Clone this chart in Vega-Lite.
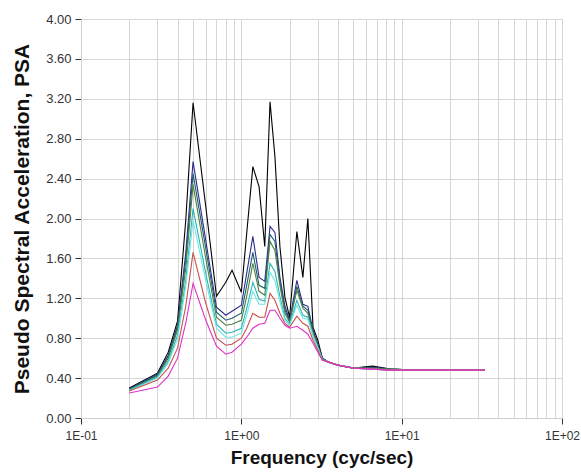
{
  "$schema": "https://vega.github.io/schema/vega-lite/v6.json",
  "width": 481,
  "height": 399,
  "autosize": {"type": "none"},
  "padding": {"left": 81, "top": 19, "right": 19, "bottom": 57},
  "background": "white",
  "config": {
    "view": {"stroke": null},
    "font": "Liberation Sans",
    "axis": {
      "gridColor": "#d6d6d6",
      "gridWidth": 1,
      "domainColor": "#cfcfcf",
      "tickColor": "#333333",
      "tickSize": 6,
      "labelFontSize": 12,
      "labelColor": "#333333",
      "titleFontWeight": "bold",
      "titleColor": "#111111"
    }
  },
  "data": {
    "values": [
      {"f": 0.2, "K": 0.30, "N": 0.29, "T": 0.29, "G": 0.28, "C": 0.28, "L": 0.27, "R": 0.27, "M": 0.25},
      {"f": 0.3, "K": 0.45, "N": 0.44, "T": 0.43, "G": 0.42, "C": 0.41, "L": 0.40, "R": 0.38, "M": 0.31},
      {"f": 0.35, "K": 0.66, "N": 0.63, "T": 0.62, "G": 0.60, "C": 0.57, "L": 0.55, "R": 0.50, "M": 0.42},
      {"f": 0.4, "K": 0.97, "N": 0.93, "T": 0.91, "G": 0.88, "C": 0.83, "L": 0.79, "R": 0.70, "M": 0.60},
      {"f": 0.45, "K": 1.98, "N": 1.65, "T": 1.58, "G": 1.50, "C": 1.38, "L": 1.32, "R": 1.12, "M": 0.95},
      {"f": 0.5, "K": 3.16, "N": 2.57, "T": 2.45, "G": 2.34, "C": 2.10, "L": 1.98, "R": 1.66, "M": 1.35},
      {"f": 0.6, "K": 2.12, "N": 1.78, "T": 1.70, "G": 1.60, "C": 1.45, "L": 1.38, "R": 1.15, "M": 0.98},
      {"f": 0.7, "K": 1.22, "N": 1.11, "T": 1.06, "G": 1.01, "C": 0.94, "L": 0.90, "R": 0.80, "M": 0.72},
      {"f": 0.8, "K": 1.36, "N": 1.03, "T": 0.98, "G": 0.93, "C": 0.85, "L": 0.81, "R": 0.73, "M": 0.64},
      {"f": 0.875, "K": 1.48, "N": 1.07, "T": 1.00, "G": 0.94, "C": 0.86, "L": 0.81, "R": 0.74, "M": 0.66},
      {"f": 1.0, "K": 1.26, "N": 1.13, "T": 1.05, "G": 0.98, "C": 0.90, "L": 0.85, "R": 0.80, "M": 0.74},
      {"f": 1.08, "K": 1.85, "N": 1.45, "T": 1.33, "G": 1.22, "C": 1.10, "L": 1.03, "R": 0.90, "M": 0.81},
      {"f": 1.18, "K": 2.52, "N": 1.82, "T": 1.66, "G": 1.55, "C": 1.36, "L": 1.27, "R": 1.05, "M": 0.90},
      {"f": 1.29, "K": 2.32, "N": 1.41, "T": 1.33, "G": 1.27, "C": 1.19, "L": 1.14, "R": 1.01, "M": 0.94},
      {"f": 1.4, "K": 1.72, "N": 1.37, "T": 1.30, "G": 1.23, "C": 1.17, "L": 1.14, "R": 1.01, "M": 0.95},
      {"f": 1.51, "K": 3.17, "N": 1.92, "T": 1.84, "G": 1.77, "C": 1.55, "L": 1.46, "R": 1.25, "M": 1.08},
      {"f": 1.62, "K": 2.62, "N": 1.86, "T": 1.77, "G": 1.68, "C": 1.47, "L": 1.38, "R": 1.18, "M": 1.08},
      {"f": 1.74, "K": 1.72, "N": 1.41, "T": 1.37, "G": 1.33, "C": 1.22, "L": 1.17, "R": 1.05, "M": 1.00},
      {"f": 1.87, "K": 1.21, "N": 1.12, "T": 1.08, "G": 1.05, "C": 1.00, "L": 0.98, "R": 0.95, "M": 0.93},
      {"f": 2.0, "K": 1.01, "N": 0.98, "T": 0.97, "G": 0.96, "C": 0.94, "L": 0.93, "R": 0.91, "M": 0.90},
      {"f": 2.22, "K": 1.87, "N": 1.38, "T": 1.32, "G": 1.28, "C": 1.18, "L": 1.13, "R": 1.02, "M": 0.92},
      {"f": 2.42, "K": 1.41, "N": 1.14, "T": 1.12, "G": 1.10, "C": 1.03, "L": 1.00, "R": 0.95, "M": 0.88},
      {"f": 2.6, "K": 2.00, "N": 1.12, "T": 1.08, "G": 1.05, "C": 1.01, "L": 0.99, "R": 0.92, "M": 0.84},
      {"f": 2.8, "K": 0.91, "N": 0.88, "T": 0.86, "G": 0.85, "C": 0.83, "L": 0.82, "R": 0.78, "M": 0.75},
      {"f": 3.0, "K": 0.78, "N": 0.74, "T": 0.73, "G": 0.72, "C": 0.71, "L": 0.70, "R": 0.68, "M": 0.66},
      {"f": 3.2, "K": 0.60, "N": 0.60, "T": 0.60, "G": 0.59, "C": 0.59, "L": 0.58, "R": 0.58, "M": 0.58},
      {"f": 3.5, "K": 0.56, "N": 0.56, "T": 0.56, "G": 0.56, "C": 0.56, "L": 0.56, "R": 0.56, "M": 0.56},
      {"f": 4.0, "K": 0.53, "N": 0.53, "T": 0.53, "G": 0.53, "C": 0.53, "L": 0.53, "R": 0.53, "M": 0.53},
      {"f": 5.0, "K": 0.50, "N": 0.50, "T": 0.50, "G": 0.50, "C": 0.50, "L": 0.50, "R": 0.50, "M": 0.50},
      {"f": 6.6, "K": 0.52, "N": 0.51, "T": 0.50, "G": 0.50, "C": 0.49, "L": 0.49, "R": 0.49, "M": 0.49},
      {"f": 8.5, "K": 0.49, "N": 0.49, "T": 0.49, "G": 0.49, "C": 0.48, "L": 0.48, "R": 0.48, "M": 0.48},
      {"f": 12, "K": 0.48, "N": 0.48, "T": 0.48, "G": 0.48, "C": 0.48, "L": 0.48, "R": 0.48, "M": 0.48},
      {"f": 20, "K": 0.48, "N": 0.48, "T": 0.48, "G": 0.48, "C": 0.48, "L": 0.48, "R": 0.48, "M": 0.48},
      {"f": 33, "K": 0.48, "N": 0.48, "T": 0.48, "G": 0.48, "C": 0.48, "L": 0.48, "R": 0.48, "M": 0.48}
    ]
  },
  "transform": [{"fold": ["K", "N", "T", "G", "C", "L", "R", "M"], "as": ["series", "psa"]}],
  "mark": {"type": "line", "strokeWidth": 1.1, "clip": true},
  "encoding": {
    "x": {
      "field": "f",
      "type": "quantitative",
      "scale": {"type": "log", "domain": [0.1, 100], "nice": false},
      "axis": {
        "title": "Frequency (cyc/sec)",
        "titleFontSize": 19,
        "values": [0.1, 0.2, 0.3, 0.4, 0.5, 0.6, 0.7, 0.8, 0.9, 1, 2, 3, 4, 5, 6, 7, 8, 9, 10, 20, 30, 40, 50, 60, 70, 80, 90, 100],
        "grid": true,
        "labelExpr": "abs(log(datum.value)/LN10 - round(log(datum.value)/LN10)) < 0.001 ? '1E' + (round(log(datum.value)/LN10) < 0 ? '-' : '+') + '0' + abs(round(log(datum.value)/LN10)) : ''",
        "tickOpacity": {"condition": {"test": "abs(log(datum.value)/LN10 - round(log(datum.value)/LN10)) < 0.001", "value": 1}, "value": 0},
        "labelOverlap": false,
        "labelFlush": false,
        "labelPadding": 6,
        "titlePadding": 7
      }
    },
    "y": {
      "field": "psa",
      "type": "quantitative",
      "scale": {"domain": [0, 4], "nice": false},
      "axis": {
        "title": "Pseudo Spectral Acceleration, PSA",
        "titleFontSize": 21,
        "labelFontSize": 13,
        "values": [0, 0.4, 0.8, 1.2, 1.6, 2.0, 2.4, 2.8, 3.2, 3.6, 4.0],
        "format": ".2f",
        "grid": true,
        "labelPadding": 4,
        "titlePadding": 13
      }
    },
    "color": {
      "field": "series",
      "type": "nominal",
      "sort": ["K", "N", "T", "G", "C", "L", "R", "M"],
      "scale": {
        "domain": ["K", "N", "T", "G", "C", "L", "R", "M"],
        "range": ["#000000", "#2b2b90", "#1d5d6b", "#4f7f3f", "#2ab5b5", "#70e6e6", "#c8504a", "#e030c8"]
      },
      "legend": null
    }
  }
}
